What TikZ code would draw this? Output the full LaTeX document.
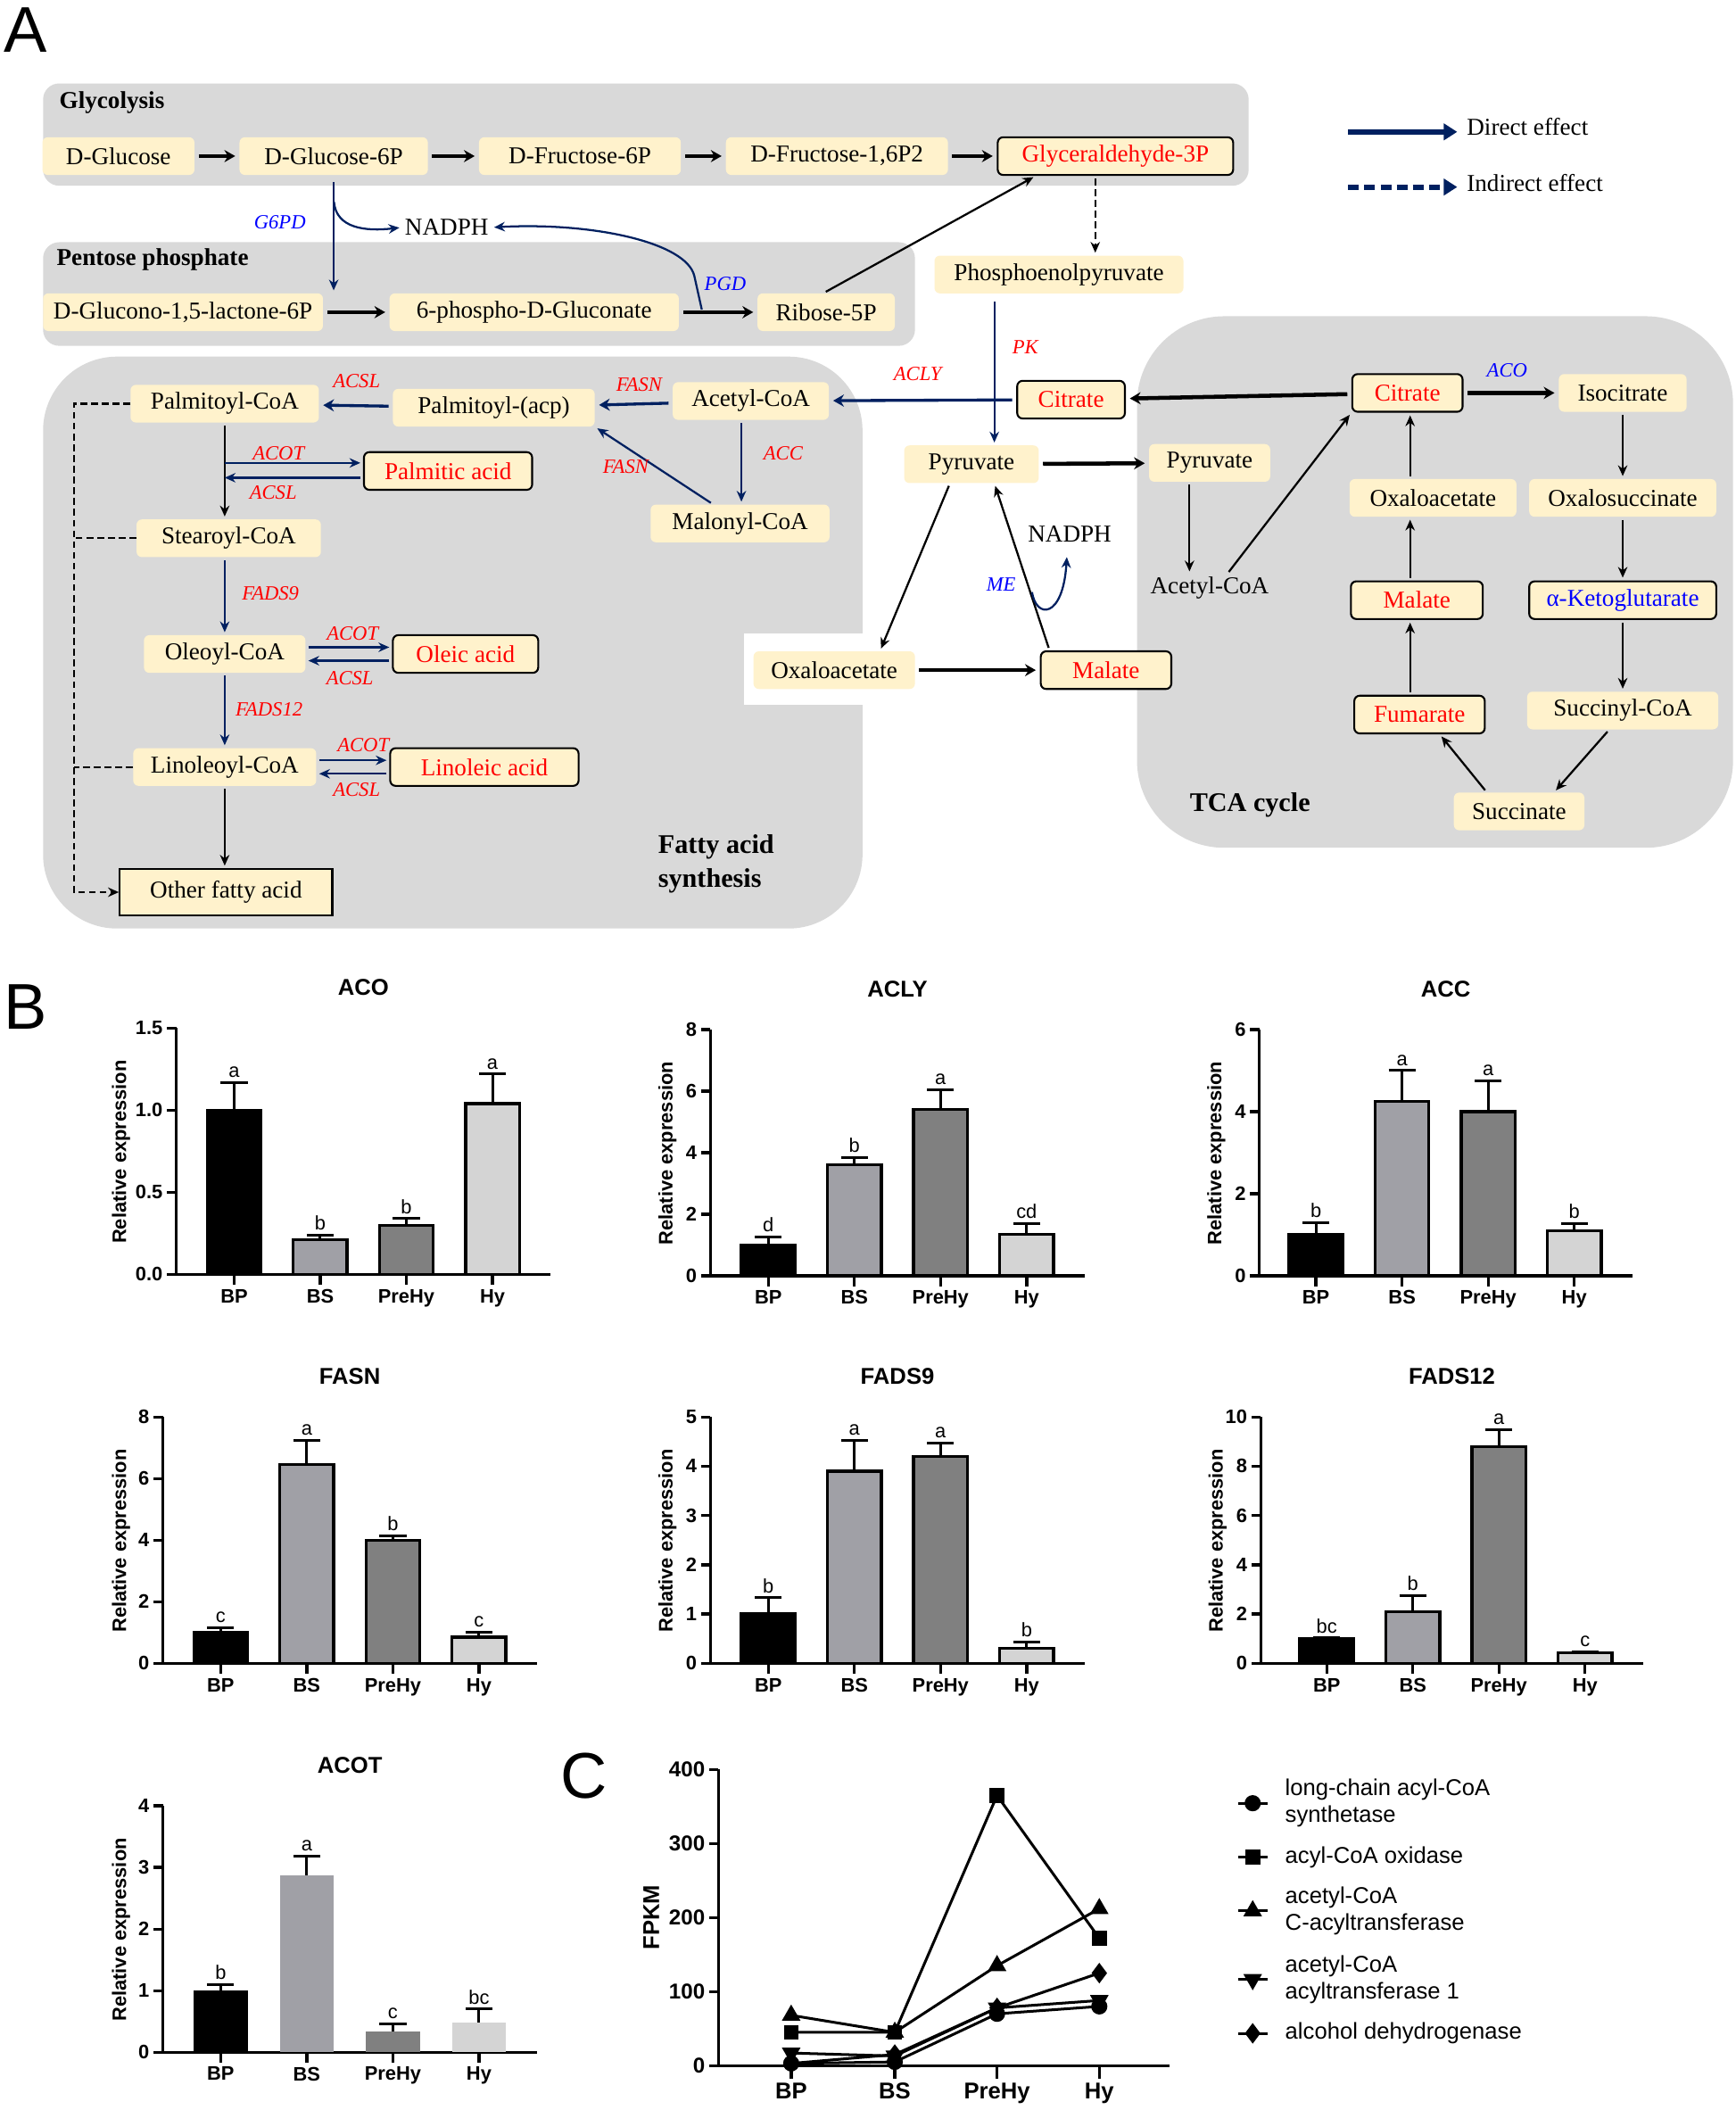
\documentclass[tikz,border=0pt]{standalone}
\usepackage{fontspec}
\setmainfont{Liberation Serif}
\newfontfamily\arialfont{Liberation Sans}
\usetikzlibrary{arrows.meta,plotmarks}

\definecolor{cream}{HTML}{FFF2CC}
\definecolor{panelgray}{HTML}{D9D9D9}
\definecolor{navy}{HTML}{002060}
\definecolor{bar1}{gray}{0}
\definecolor{bar2}{RGB}{160,160,166}
\definecolor{bar3}{RGB}{128,128,128}
\definecolor{bar4}{RGB}{212,212,212}

\newcommand{\metsize}{\fontsize{18}{21}\selectfont}
\newcommand{\enzsize}{\fontsize{15}{17}\selectfont}

\tikzset{
  met/.style={fill=cream, rounded corners=4pt, inner xsep=6pt, inner ysep=0pt, minimum height=28pt, font=\metsize},
  metred/.style={met, draw=black, line width=1.4pt, text=red},
  metblue/.style={met, draw=black, line width=1.4pt, text=blue},
  plain/.style={font=\metsize, inner sep=2pt},
  enz/.style={font=\enzsize\itshape, text=red, inner sep=1pt},
  enzblue/.style={enz, text=blue},
  grouplab/.style={font=\fontsize{18}{22}\selectfont\bfseries, inner sep=0pt},
  panel/.style={fill=panelgray},
  rxn/.style={-{Stealth[length=8pt,width=7pt]}, line width=1.5pt, shorten >=2pt, shorten <=2pt},
  rxnbold/.style={-{Stealth[length=8pt,width=9pt]}, line width=3pt, shorten >=3pt, shorten <=3pt},
  dir/.style={rxn, color=navy},
  dirbold/.style={rxnbold, color=navy, line width=2.2pt},
  indir/.style={rxn, dash pattern=on 5pt off 3pt},
  dashline/.style={line width=1.5pt, dash pattern=on 5pt off 3pt},
  legarrow/.style={-{Triangle[length=10pt,width=12pt]}, line width=4pt, color=navy, shorten >=7pt},
  legtext/.style={font=\metsize, anchor=west, inner sep=0pt},
  panelletter/.style={font=\arialfont\fontsize{48}{50}\selectfont, inner sep=0pt},
  % charts
  axis/.style={line width=2.2pt},
  errbar/.style={line width=2pt},
  barline/.style={draw=black, line width=2.2pt},
  charttitle/.style={font=\arialfont\fontsize{17}{20}\selectfont\bfseries},
  ticklab/.style={anchor=east, font=\arialfont\fontsize{14.5}{16}\selectfont\bfseries, inner sep=2pt},
  catlab/.style={anchor=north, font=\arialfont\fontsize{14.5}{16}\selectfont\bfseries, inner sep=2pt},
  siglab/.style={anchor=south, font=\arialfont\fontsize{14.5}{16}\selectfont, inner sep=1.5pt},
  ylab/.style={rotate=90, font=\arialfont\fontsize{14.5}{16}\selectfont\bfseries},
  series/.style={line width=2pt, mark options={solid, fill=black}, mark size=5pt},
  legC/.style={anchor=west, align=left, font=\arialfont\fontsize{17}{20}\selectfont, inner sep=0pt},
}

% bar chart: axis x, baseline y, first bar x, y max, ticks, title, bars, label shift
\newcommand{\exprchart}[8]{%
  \pgfmathsetmacro{\yu}{183/#4}
  \pgfmathsetmacro{\xend}{#3+3*64+43}
  \node[charttitle] at ({(#1+\xend)/2},#2-213) {#6};
  \draw[axis] (#1,#2-183) -- (#1,#2) -- (\xend,#2);
  \foreach \tv/\tl in {#5}
    \draw[axis] (#1,#2-\tv*\yu) -- ++(-7,0) node[ticklab] {\tl};
  \foreach \val/\err/\sg/\cat [count=\k] in {#7} {
    \pgfmathsetmacro{\bx}{#3+(\k-1)*64}
    \draw[axis] (\bx,#2) -- ++(0,8) node[catlab] {\cat};
    \draw[errbar] (\bx,#2-\val*\yu) -- (\bx,#2-\err*\yu) ++(-10,0) -- ++(20,0);
    \draw[barline, fill=bar\k] (\bx-20,#2) rectangle (\bx+20,#2-\val*\yu);
    \node[siglab] at (\bx,#2-\err*\yu-2) {\sg};
  }
  \node[ylab] at (#1-#8,#2-91) {Relative expression};
}

\begin{document}
\begin{tikzpicture}[x=1pt,y=-1pt]
\useasboundingbox (0,0) rectangle (1290,1568);
\fill[white] (0,0) rectangle (1290,1568);

% PANEL LETTERS
\node[panelletter] (lA) at (19,22) {A};
\node[panelletter] (lB) at (19,748) {B};
\node[panelletter] (lC) at (434,1320) {C};

% BACKGROUNDS
\fill[panel, rounded corners=12pt] (32,62) rectangle (928,138);
\fill[panel, rounded corners=12pt] (32,180) rectangle (680,257);
\fill[panel, rounded corners=55pt] (32,265) rectangle (641,690);
\fill[panel, rounded corners=65pt] (845,235) rectangle (1288,630);
\fill[white] (553,471) rectangle (680,524);

\node[grouplab, anchor=west] at (44,76) {Glycolysis};
\node[grouplab, anchor=west] at (42,193) {Pentose phosphate};
\node[grouplab, anchor=west, align=left, font=\fontsize{20}{25}\selectfont\bfseries] at (489,642) {Fatty acid\\synthesis};
\node[grouplab, font=\fontsize{20}{25}\selectfont\bfseries] at (929,598) {TCA cycle};

% LEGEND
\node[legtext] (ldir) at (1090,94) {Direct effect};
\node[legtext] (lind) at (1090,136) {Indirect effect};
\coordinate (ldirs) at (1002,98);
\coordinate (linds) at (1002,139);
\draw[legarrow] (ldirs) -- (ldirs -| ldir.west);
\draw[legarrow, dash pattern=on 8pt off 4pt] (linds) -- (linds -| lind.west);

% GLYCOLYSIS
\node[met, minimum width=113] (glc) at (88,116) {D-Glucose};
\node[met, minimum width=140] (g6p) at (248,116) {D-Glucose-6P};
\node[met, minimum width=150] (f6p) at (431,116) {D-Fructose-6P};
\node[met, minimum width=165] (fbp) at (622,116) {D-Fructose-1,6P2};
\node[metred, minimum width=175] (gap) at (829,116) {Glyceraldehyde-3P};
\draw[rxnbold] (glc) -- (g6p);
\draw[rxnbold] (g6p) -- (f6p);
\draw[rxnbold] (f6p) -- (fbp);
\draw[rxnbold] (fbp) -- (gap);

% PENTOSE PHOSPHATE
\node[met, minimum width=208] (gl) at (136,232) {D-Glucono-1,5-lactone-6P};
\node[met, minimum width=215] (pg) at (397,232) {6-phospho-D-Gluconate};
\node[met, minimum width=102] (r5p) at (614,232) {Ribose-5P};
\node[plain] (nadph1) at (332,169) {NADPH};
\node[enzblue] at (208,165) {G6PD};
\node[enzblue] at (539,211) {PGD};
\draw[rxnbold] (gl) -- (pg);
\draw[rxnbold] (pg) -- (r5p);
\draw[dir] ([yshift=-3pt]g6p.south) -- (g6p.south |- gl.north);
\draw[dir] (248,148) .. controls (250,170) and (272,172) .. (nadph1.west);
\draw[dir] (522,232) -- (516,205) .. controls (510,180) and (440,165) .. (nadph1.east);
\draw[rxn] ([xshift=-2pt]r5p.north) -- ([xshift=29pt]gap.south west);

% PEP
\node[met, minimum width=185] (pep) at (787,204) {Phosphoenolpyruvate};
\draw[indir] ([xshift=-15pt]gap.south) -- ([xshift=-15pt]gap.south |- pep.north);

% FATTY ACID SYNTHESIS
\node[met, minimum width=140] (pcoa) at (167,300) {Palmitoyl-CoA};
\node[met, minimum width=150] (pacp) at (367,303) {Palmitoyl-(acp)};
\node[met, minimum width=116] (acoa) at (558,298) {Acetyl-CoA};
\node[metred, minimum width=125] (palm) at (333,350) {Palmitic acid};
\node[met, minimum width=133] (mcoa) at (550,389) {Malonyl-CoA};
\node[met, minimum width=137] (scoa) at (170,400) {Stearoyl-CoA};
\node[met, minimum width=120] (ocoa) at (167,486) {Oleoyl-CoA};
\node[metred, minimum width=108] (olei) at (346,486) {Oleic acid};
\node[met, minimum width=136] (lcoa) at (167,570) {Linoleoyl-CoA};
\node[metred, minimum width=140] (lino) at (360,570) {Linoleic acid};
\node[met, rounded corners=0pt, draw=black, line width=1.4pt, minimum width=158, minimum height=34] (ofa) at (168,663) {Other fatty acid};

\draw[dirbold] (acoa) -- (pacp);
\draw[dirbold] (pacp) -- (pcoa);
\draw[dir] ([xshift=-20pt]mcoa.north) -- (pacp.south east);
\draw[dir] ([xshift=-7pt]acoa.south) -- ([xshift=-7pt]acoa.south |- mcoa.north);
\node[enz] at (265,283) {ACSL};
\node[enz] at (475,286) {FASN};
\node[enz] at (465,347) {FASN};
\node[enz] at (582,337) {ACC};

\coordinate (pbranch) at (167,350);
\draw[rxn] (pcoa.south) -- (pcoa.south |- scoa.north);
\draw[dir, shorten <=0pt] ([yshift=6pt]pbranch) -- ([yshift=6pt]palm.west);
\draw[dir, shorten >=0pt] ([yshift=-5pt]palm.west) -- ([yshift=-5pt]pbranch);
\node[enz] at (207,337) {ACOT};
\node[enz] at (203,366) {ACSL};

\draw[dir] (scoa.south -| ocoa.north) -- (ocoa.north);
\node[enz] at (201,441) {FADS9};
\draw[dir] ([yshift=5pt]ocoa.east) -- ([yshift=5pt]olei.west);
\draw[dir] ([yshift=-5pt]olei.west) -- ([yshift=-5pt]ocoa.east);
\node[enz] at (262,471) {ACOT};
\node[enz] at (260,504) {ACSL};

\draw[dir] (ocoa) -- (lcoa);
\node[enz] at (200,527) {FADS12};
\draw[dir] ([yshift=5pt]lcoa.east) -- ([yshift=5pt]lino.west);
\draw[dir] ([yshift=-5pt]lino.west) -- ([yshift=-5pt]lcoa.east);
\node[enz] at (270,554) {ACOT};
\node[enz] at (265,587) {ACSL};

\draw[rxn] (lcoa.south) -- (lcoa.south |- ofa.north);

\coordinate (dashx) at (55,0);
\draw[dashline, -{Stealth[length=8pt,width=7pt]}] (pcoa.west) -- (pcoa.west -| dashx) |- (ofa.west);
\draw[dashline] (scoa.west) -- (scoa.west -| dashx);
\draw[dashline] (lcoa.west) -- (lcoa.west -| dashx);

% PYRUVATE / MALATE SHUNT
\node[metred, minimum width=80] (cit1) at (796,297) {Citrate};
\node[met, minimum width=100] (pyr) at (722,345) {Pyruvate};
\node[met, minimum width=90] (pyr2) at (899,344) {Pyruvate};
\node[plain] (acoa2) at (899,437) {Acetyl-CoA};
\node[plain] (nadph2) at (795,397) {NADPH};
\node[met, minimum width=120] (oaa1) at (620,498) {Oxaloacetate};
\node[metred, minimum width=97] (mal1) at (822,498) {Malate};
\node[enz] at (762,258) {PK};
\node[enz] at (682,278) {ACLY};
\node[enzblue] at (744,434) {ME};

\coordinate (pkx) at (739,0);
\draw[dir, line width=1.2pt, shorten <=6pt] (pep.south -| pkx) -- (pyr.north -| pkx);
\draw[dirbold] (cit1) -- (acoa);
\draw[rxnbold] (pyr) -- (pyr2);
\draw[rxn] ([xshift=-16pt]pyr.south) -- ([xshift=34pt]oaa1.north);
\draw[rxnbold] (oaa1) -- (mal1);
\draw[rxn] ([xshift=-42pt]mal1.north) -- ([xshift=17pt]pyr.south);
\draw[dir, shorten <=0pt] (767,440) .. controls (770,460) and (790,460) .. (793,412);
\draw[rxn] ([xshift=-15pt]pyr2.south) -- ([xshift=-15pt]acoa2.north);

% TCA CYCLE
\node[metred, minimum width=82] (cit2) at (1046,292) {Citrate};
\node[met, minimum width=95] (iso) at (1206,292) {Isocitrate};
\node[met, minimum width=124] (oaa2) at (1065,370) {Oxaloacetate};
\node[met, minimum width=139] (osuc) at (1206,370) {Oxalosuccinate};
\node[metred, minimum width=98] (mal2) at (1053,446) {Malate};
\node[metblue, minimum width=139] (akg) at (1206,446) {α-Ketoglutarate};
\node[metred, minimum width=97] (fum) at (1055,531) {Fumarate};
\node[met, minimum width=142] (scoa2) at (1206,528) {Succinyl-CoA};
\node[met, minimum width=97] (suc) at (1129,603) {Succinate};
\node[enzblue] at (1120,275) {ACO};

\draw[rxn] ([xshift=13pt]acoa2.north) -- (cit2.south west);
\draw[rxnbold] (cit2) -- (cit1);
\draw[rxnbold] (cit2) -- (iso);
\draw[rxn] (iso) -- (osuc);
\draw[rxn] (osuc) -- (akg);
\draw[rxn] (akg) -- (scoa2);
\draw[rxn] ([xshift=-10pt]scoa2.south) -- ([xshift=26pt]suc.north);
\draw[rxn] ([xshift=-24pt]suc.north) -- ([xshift=15pt]fum.south);
\coordinate (tcax) at (1048,0);
\draw[rxn] (fum.north -| tcax) -- (mal2.south -| tcax);
\draw[rxn] (mal2.north -| tcax) -- (oaa2.south -| tcax);
\draw[rxn] (oaa2.north -| tcax) -- (cit2.south -| tcax);

% B: RELATIVE EXPRESSION
\exprchart{131}{947}{174}{1.5}{0/0.0,0.5/0.5,1/1.0,1.5/1.5}{ACO}{1.0/1.17/a/BP,0.21/0.24/b/BS,0.30/0.34/b/PreHy,1.04/1.22/a/Hy}{41}
\exprchart{528}{948}{571}{8}{0/0,2/2,4/4,6/6,8/8}{ACLY}{1.0/1.25/d/BP,3.6/3.85/b/BS,5.4/6.05/a/PreHy,1.35/1.7/cd/Hy}{32}
\exprchart{936}{948}{978}{6}{0/0,2/2,4/4,6/6}{ACC}{1.0/1.3/b/BP,4.25/5.0/a/BS,4.0/4.75/a/PreHy,1.1/1.27/b/Hy}{32}
\exprchart{121}{1236}{164}{8}{0/0,2/2,4/4,6/6,8/8}{FASN}{1.0/1.15/c/BP,6.45/7.25/a/BS,4.0/4.15/b/PreHy,0.85/1.0/c/Hy}{31}
\exprchart{528}{1236}{571}{5}{0/0,1/1,2/2,3/3,4/4,5/5}{FADS9}{1.0/1.33/b/BP,3.9/4.53/a/BS,4.2/4.47/a/PreHy,0.3/0.43/b/Hy}{32}
\exprchart{937}{1236}{986}{10}{0/0,2/2,4/4,6/6,8/8,10/10}{FADS12}{1.0/1.03/bc/BP,2.1/2.75/b/BS,8.8/9.5/a/PreHy,0.42/0.48/c/Hy}{32}
\begin{scope}[barline/.style={draw=none}]
\exprchart{121}{1525}{164}{4}{0/0,1/1,2/2,3/3,4/4}{ACOT}{1.0/1.1/b/BP,2.87/3.18/a/BS,0.33/0.46/c/PreHy,0.48/0.7/bc/Hy}{31}
\end{scope}

% C: FPKM
\begin{scope}[shift={(0,1535)}, y=0.55pt]
  \draw[axis] (534,400) -- (534,0) -- (869,0);
  \foreach \t in {0,100,...,400}
    \draw[axis] (534,\t) -- ++(-7pt,0pt) node[ticklab, font=\arialfont\fontsize{16}{18}\selectfont\bfseries] {\t};
  \foreach \cx/\cl in {588/BP,665/BS,741/PreHy,817/Hy}
    \draw[axis] (\cx,0) -- ++(0pt,-10pt) node[catlab, font=\arialfont\fontsize{17}{19}\selectfont\bfseries] {\cl};
  \draw[series, mark=*] plot coordinates {(588,3) (665,5) (741,70) (817,80)};
  \draw[series, mark=square*, mark size=4.5pt] plot coordinates {(588,45) (665,45) (741,365) (817,172)};
  \draw[series, mark=triangle*, mark size=6pt] plot coordinates {(588,68) (665,45) (741,135) (817,212)};
  \draw[series, mark=triangle*, mark size=6pt, mark options={rotate=180}] plot coordinates {(588,17) (665,13) (741,78) (817,88)};
  \draw[series, mark=diamond*, mark size=6pt] plot coordinates {(588,3) (665,15) (741,78) (817,125)};
\end{scope}
\node[ylab, font=\arialfont\fontsize{17}{19}\selectfont\bfseries] at (484,1425) {FPKM};

% C legend
\draw[series, mark=*, mark indices={2}] plot coordinates {(920,1340) (931,1340) (942,1340)};
\draw[series, mark=square*, mark size=4.5pt, mark indices={2}] plot coordinates {(920,1380) (931,1380) (942,1380)};
\draw[series, mark=triangle*, mark size=6pt, mark indices={2}] plot coordinates {(920,1420) (931,1420) (942,1420)};
\draw[series, mark=triangle*, mark size=6pt, mark options={rotate=180}, mark indices={2}] plot coordinates {(920,1471) (931,1471) (942,1471)};
\draw[series, mark=diamond*, mark size=6pt, mark indices={2}] plot coordinates {(920,1511) (931,1511) (942,1511)};
\node[legC] at (955,1340) {long-chain acyl-CoA\\synthetase};
\node[legC] at (955,1380) {acyl-CoA oxidase};
\node[legC] at (955,1420) {acetyl-CoA\\C-acyltransferase};
\node[legC] at (955,1471) {acetyl-CoA\\acyltransferase 1};
\node[legC] at (955,1511) {alcohol dehydrogenase};
\end{tikzpicture}
\end{document}
